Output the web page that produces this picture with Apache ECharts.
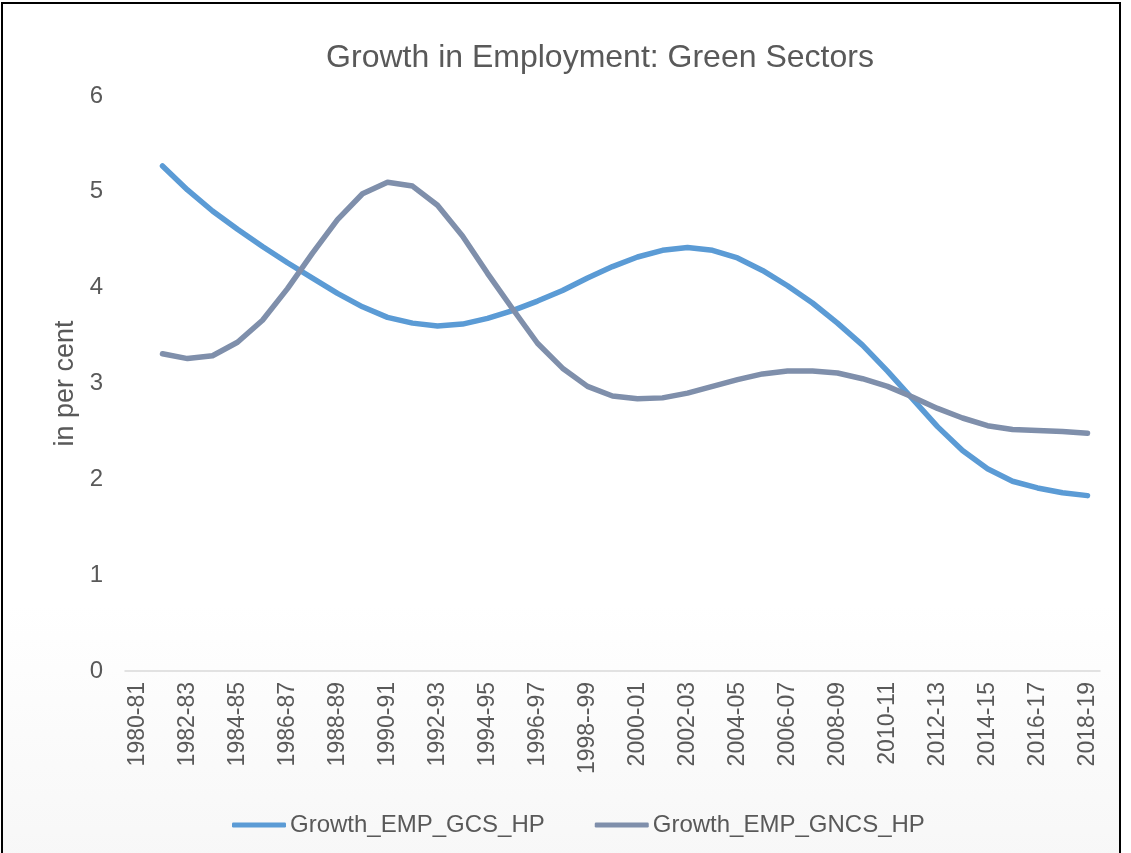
<!DOCTYPE html>
<html>
<head>
<meta charset="utf-8">
<script src="https://cdn.jsdelivr.net/npm/echarts@6/dist/echarts.min.js"></script>
<style>
    html,body{margin:0;padding:0;background:#fff;}
    #frame{position:absolute;left:1px;top:2px;width:1120px;height:860px;
        border:2px solid #000;border-bottom:none;box-sizing:border-box;
        background:linear-gradient(to bottom,#ffffff 0%,#ffffff 70%,#f7f7f7 100%);}
    #main{position:absolute;left:0;top:0;width:1131px;height:853px;}
</style>
</head>
<body>
<div id="frame"></div>
<div id="main"></div>
<script>
//年份
var years=['1980-81','1981-82','1982-83','1983-84','1984-85','1985-86','1986-87','1987-88','1988-89','1989-90',
    '1990-91','1991-92','1992-93','1993-94','1994-95','1995-96','1996-97','1997-98','1998--99','1999-00',
    '2000-01','2001-02','2002-03','2003-04','2004-05','2005-06','2006-07','2007-08','2008-09','2009-10',
    '2010-11','2011-12','2012-13','2013-14','2014-15','2015-16','2016-17','2017-18','2018-19'];
//GCS
var gcs=[null,5.27,5.02,4.80,4.61,4.43,4.26,4.10,3.94,3.80,
    3.69,3.63,3.60,3.62,3.68,3.76,3.86,3.97,4.10,4.22,
    4.32,4.39,4.42,4.39,4.31,4.18,4.02,3.84,3.63,3.40,
    3.13,2.84,2.55,2.30,2.11,1.98,1.91,1.86,1.83];
//GNCS
var gncs=[null,3.31,3.26,3.29,3.43,3.66,3.99,4.36,4.71,4.98,
    5.10,5.06,4.86,4.54,4.15,3.78,3.42,3.16,2.97,2.87,
    2.84,2.85,2.90,2.97,3.04,3.10,3.13,3.13,3.11,3.05,
    2.97,2.86,2.74,2.64,2.56,2.52,2.51,2.50,2.48];
var seriesNames=['Growth_EMP_GCS_HP','Growth_EMP_GNCS_HP'];

var myChart=echarts.init(document.getElementById('main'));
var txtColor='#595959';
var font='"Liberation Sans", Arial, sans-serif';
myChart.setOption({
    backgroundColor:'transparent',
    title:{
        text:'Growth in Employment: Green Sectors',
        top:37,
        left:595,
        textAlign:'center',
        textStyle:{color:txtColor,fontSize:32,fontWeight:'normal',fontFamily:font}
    },
    legend:{
        top:808,
        left:227,
        itemWidth:54,
        itemHeight:5,
        itemGap:50,
        icon:'roundRect',
        textStyle:{color:txtColor,fontSize:24,fontFamily:font,padding:[0,0,0,-1]},
        data:seriesNames
    },
    grid:{left:125,right:31,top:96,bottom:182},
    xAxis:{
        type:'category',
        data:years,
        boundaryGap:true,
        axisLine:{lineStyle:{color:'#d9d9d9',width:1.5}},
        axisTick:{show:false},
        axisLabel:{
            rotate:90,
            interval:1,
            margin:11,
            color:txtColor,
            fontSize:23,
            fontFamily:font
        }
    },
    yAxis:{
        type:'value',
        min:0,
        max:6,
        interval:1,
        name:'in per cent',
        nameLocation:'middle',
        nameGap:45,
        nameTextStyle:{color:txtColor,fontSize:27,fontFamily:font},
        axisLine:{show:false},
        axisTick:{show:false},
        splitLine:{show:false},
        axisLabel:{color:txtColor,fontSize:24,fontFamily:font,margin:22}
    },
    series:[
        {
            name:seriesNames[0],
            type:'line',
            data:gcs,
            symbol:'none',
            smooth:false,
            lineStyle:{color:'#5b9bd5',width:5.5,cap:'round',join:'round'},
            itemStyle:{color:'#5b9bd5'}
        },
        {
            name:seriesNames[1],
            type:'line',
            data:gncs,
            symbol:'none',
            smooth:false,
            lineStyle:{color:'#7f8fab',width:5.5,cap:'round',join:'round'},
            itemStyle:{color:'#7f8fab'}
        }
    ]
});
</script>
</body>
</html>
